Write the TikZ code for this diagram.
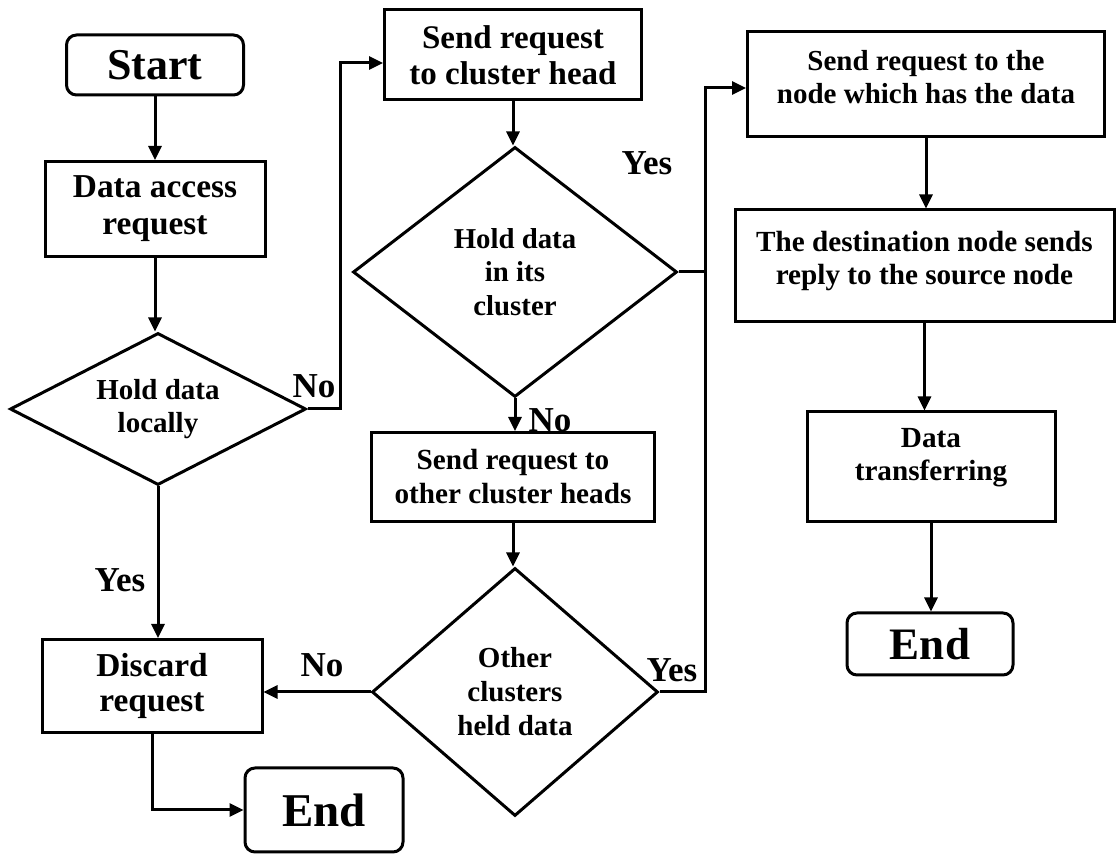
\documentclass[tikz,border=0pt]{standalone}
\usepackage{fontspec}
\setmainfont{Liberation Serif}
\usetikzlibrary{shapes.geometric,arrows.meta}
\begin{document}
\begin{tikzpicture}[x=0.5pt, y=-0.5pt,
  every node/.style = {align=center},
  terminal/.style = {draw, line width=1.5pt, rounded corners=5pt, font=\bfseries\fontsize{22.5}{24}\selectfont},
  process/.style = {draw, line width=1.5pt},
  decision/.style = {diamond, draw, line width=1.5pt, inner sep=0pt},
  lbl/.style = {font=\bfseries\fontsize{17.5}{19}\selectfont},
  link/.style = {line width=1.5pt},
  arr/.style = {-{Triangle[length=7pt, width=6.5pt]}, line width=1.5pt}]
  \useasboundingbox (0,0) rectangle (1116,855);
  % left column
  \node[terminal, minimum width=88.5pt, minimum height=30pt, font=\bfseries\fontsize{22}{24}\selectfont] (start) at (155,65) {Start};
  \node[process, minimum width=110pt, minimum height=47.5pt, font=\bfseries\fontsize{16.7}{18.5}\selectfont] (access) at (155,209) {Data access\\request};
  \node[decision, aspect=2, minimum width=148pt, minimum height=76pt, font=\bfseries\fontsize{14.5}{16.5}\selectfont] (local) at (158,409) {Hold data\\locally};
  \node[process, minimum width=110pt, minimum height=46.5pt, font=\bfseries\fontsize{16.7}{17.5}\selectfont] (discard) at (152,686) {Discard\\request};
  \node[terminal, minimum width=79pt, minimum height=42pt, font=\bfseries\fontsize{23.5}{25}\selectfont] (endl) at (324,810) {End};
  % middle column
  \node[process, minimum width=128.5pt, minimum height=45pt, font=\bfseries\fontsize{16.5}{18}\selectfont] (head) at (513,55) {Send request\\to cluster head};
  \node[decision, aspect=1.3, minimum width=162pt, minimum height=125pt, font=\bfseries\fontsize{14.4}{16.7}\selectfont] (incl) at (515,272) {Hold data\\in its\\cluster};
  \node[process, minimum width=141.5pt, minimum height=44.5pt, font=\bfseries\fontsize{14.6}{17}\selectfont] (others) at (513,477) {Send request to\\other cluster heads};
  \node[decision, aspect=1.15, minimum width=143pt, minimum height=124pt, font=\bfseries\fontsize{14.5}{17}\selectfont] (held) at (515,692) {Other\\clusters\\held data};
  % right column
  \node[process, minimum width=178.5pt, minimum height=52.5pt, font=\bfseries\fontsize{14.5}{16.5}\selectfont] (target) at (926,84) {Send request to the\\node which has the data\\[-9pt]\mbox{}};
  \node[process, minimum width=189.5pt, minimum height=56pt, font=\bfseries\fontsize{14.6}{16.5}\selectfont] (reply) at (924.5,266) {The destination node sends\\reply to the source node\\[-8pt]\mbox{}};
  \node[process, minimum width=124pt, minimum height=55pt, font=\bfseries\fontsize{14.6}{16.5}\selectfont] (transfer) at (931,467) {Data\\transferring\\[-4pt]\mbox{}};
  \node[terminal, minimum width=83pt, minimum height=31pt] (endr) at (930,644) {End};
  % labels
  \node[lbl] (yes1) at (120,580) {Yes};
  \node[lbl] (no1) at (314,386) {No};
  \node[lbl] (yes2) at (647,163) {Yes};
  \node[lbl] (no2) at (550,420) {No};
  \node[lbl] (yes3) at (672,670) {Yes};
  \node[lbl] (no3) at (322,665) {No};
  \coordinate (loop) at (340,0);
  \coordinate (trunk) at (705,0);
  % connectors
  \draw[arr] (start) -- (access);
  \draw[arr] (access.south) -- (access.south |- local.north);
  \draw[arr] (local.south) -- (local.south |- discard.north);
  \draw[arr] (discard.south) |- (endl.west);
  \draw[arr] (local.east) -- (local.east -| loop) |- ([yshift=-4pt]head.west);
  \draw[arr] (head.south) -- (head.south |- incl.north);
  \draw[arr] (incl.south) -- (incl.south |- others.north);
  \draw[arr] (others.south) -- (others.south |- held.north);
  \draw[arr] (held.west) -- (held.west -| discard.east);
  \draw[link] (incl.east) -- (incl.east -| trunk);
  \draw[arr] (held.east) -- (held.east -| trunk) |- ([yshift=-2pt]target.west);
  \draw[arr] (target.south) -- (target.south |- reply.north);
  \draw[arr] (reply.south) -- (reply.south |- transfer.north);
  \draw[arr] (transfer.south) -- (transfer.south |- endr.north);
\end{tikzpicture}
\end{document}
